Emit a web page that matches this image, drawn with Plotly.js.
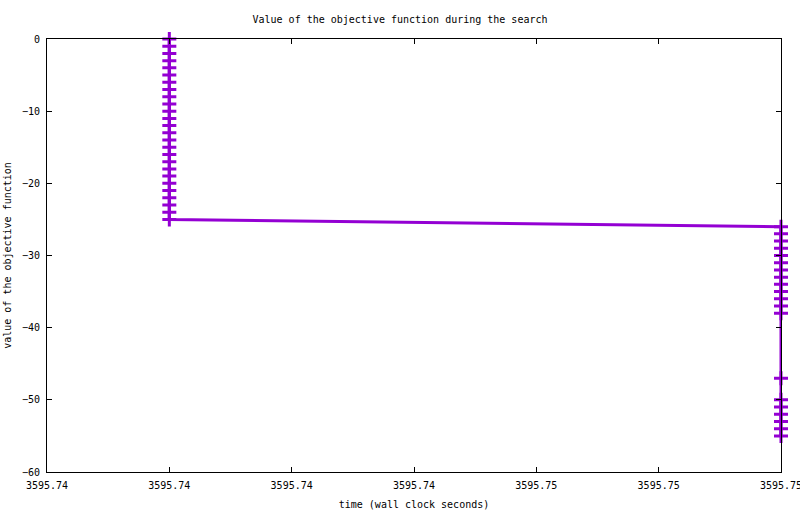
<!DOCTYPE html>
<html>
<head>
<meta charset="utf-8">
<script src="https://cdn.plot.ly/plotly-3.0.1.min.js"></script>
<style>html,body{margin:0;padding:0;background:#fff;}#chart{width:800px;height:514px;}</style>
</head>
<body>
<div id="chart"></div>
<script>
// time (wall clock seconds)
var timeValues = [
  3595.740, 3595.740, 3595.740, 3595.740, 3595.740, 3595.740, 3595.740,
  3595.740, 3595.740, 3595.740, 3595.740, 3595.740, 3595.740, 3595.740,
  3595.740, 3595.740, 3595.740, 3595.740, 3595.740, 3595.740, 3595.740,
  3595.740, 3595.740, 3595.740, 3595.740, 3595.740,
  3595.750, 3595.750, 3595.750, 3595.750, 3595.750, 3595.750, 3595.750,
  3595.750, 3595.750, 3595.750, 3595.750, 3595.750, 3595.750,
  3595.750,
  3595.750, 3595.750, 3595.750, 3595.750, 3595.750, 3595.750
];
// value of the objective function
var objectiveValues = [
  0, -1, -2, -3, -4, -5, -6,
  -7, -8, -9, -10, -11, -12, -13,
  -14, -15, -16, -17, -18, -19, -20,
  -21, -22, -23, -24, -25,
  -26, -27, -28, -29, -30, -31, -32,
  -33, -34, -35, -36, -37, -38,
  -47,
  -50, -51, -52, -53, -54, -55
];
var xTickVals = [3595.738, 3595.740, 3595.742, 3595.744, 3595.746, 3595.748, 3595.750];
var xTickText = ["3595.74", "3595.74", "3595.74", "3595.74", "3595.75", "3595.75", "3595.75"];
var yTickVals = [0, -10, -20, -30, -40, -50, -60];

var font = {family: "DejaVu Sans Mono, Liberation Mono, monospace", size: 10, color: "#000"};
var purple = "#9400D3";

var trace = {
  x: timeValues,
  y: objectiveValues,
  type: "scatter",
  mode: "lines+markers",
  line: {color: purple, width: 3},
  marker: {symbol: "cross-thin", size: 10, color: purple, line: {color: purple, width: 3}},
  cliponaxis: false,
  hoverinfo: "none"
};

var axisCommon = {
  showgrid: false,
  zeroline: false,
  showline: true,
  linecolor: "#000",
  linewidth: 1,
  mirror: "allticks",
  ticks: "inside",
  ticklen: 5,
  tickwidth: 1,
  tickcolor: "#000",
  tickfont: font,
  ticklabeloverflow: "allow"
};

var layout = {
  width: 800,
  height: 514,
  margin: {l: 47, r: 19, t: 39, b: 42},
  paper_bgcolor: "#fff",
  plot_bgcolor: "#fff",
  showlegend: false,
  font: font,
  title: {text: "Value of the objective function during the search", font: font, x: 0.5, xanchor: "center", y: 0.963, yanchor: "middle"},
  xaxis: Object.assign({}, axisCommon, {
    range: [3595.738, 3595.750],
    tickmode: "array",
    tickvals: xTickVals,
    ticktext: xTickText,
    ticklabelstandoff: 4,
    title: {text: "time (wall clock seconds)", font: font, standoff: 10}
  }),
  yaxis: Object.assign({}, axisCommon, {
    range: [-60, 0],
    tickmode: "array",
    tickvals: yTickVals,
    ticklabelstandoff: 4,
    title: {text: "value of the objective function", font: font, standoff: 8}
  })
};

Plotly.newPlot("chart", [trace], layout, {displayModeBar: false, staticPlot: true});
</script>
</body>
</html>
